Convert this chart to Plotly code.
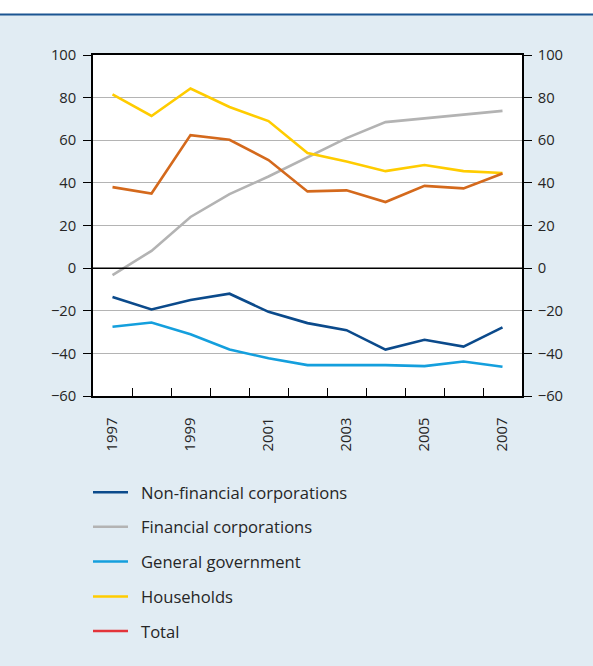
import plotly.graph_objects as go

# Sectoral series, 1997-2007 (% values)
years = list(range(1997, 2008))
non_financial = [-13.5, -19.4, -15.0, -12.0, -20.5, -25.8, -29.1, -38.2, -33.6, -36.8, -27.8]
financial = [-3.3, 8.1, 24.0, 34.7, 43.0, 52.0, 61.0, 68.5, 70.2, 71.8, 73.8]
general_gov = [-27.5, -25.5, -31.0, -38.2, -42.3, -45.5, -45.5, -45.5, -46.0, -43.8, -46.3]
households = [81.5, 71.4, 84.3, 75.6, 69.0, 54.0, 50.0, 45.5, 48.4, 45.5, 44.6]
total = [38.0, 35.0, 62.4, 60.2, 50.7, 36.0, 36.5, 31.0, 38.6, 37.4, 44.4]

series_names = ["Non-financial corporations", "Financial corporations",
                "General government", "Households", "Total"]
series_values = [non_financial, financial, general_gov, households, total]
line_colors = ["#0b4a8b", "#b3b3b3", "#149fdd", "#ffcc00", "#d4691c"]
legend_colors = ["#0b4a8b", "#b3b3b3", "#149fdd", "#ffcc00", "#e3343a"]

y_ticks = [-60, -40, -20, 0, 20, 40, 60, 80, 100]
x_label_years = [1997, 1999, 2001, 2003, 2005, 2007]

W, H = 593, 666
ML, MR, MT, MB = 93, 71, 55, 270
PW, PH = W - ML - MR, H - MT - MB

FONT = "Open Sans, Noto Sans, sans-serif"
TXT = "#262626"
BG = "#e1ecf3"


def px_x(x):
    return (x - ML) / PW


def px_y(y):
    return 1 - (y - MT) / PH


fig = go.Figure()

for name, vals, col in zip(series_names, series_values, line_colors):
    fig.add_trace(go.Scatter(x=years, y=vals, mode="lines", name=name,
                             line=dict(color=col, width=2.6),
                             showlegend=False, hoverinfo="x+y+name"))

# mirror axis on the right
fig.add_trace(go.Scatter(x=[years[0]], y=[None], yaxis="y2", showlegend=False,
                         hoverinfo="skip"))

shapes = []
annotations = []

# white band and dark blue rule at the top of the panel
shapes.append(dict(type="rect", xref="paper", yref="paper", layer="below",
                   x0=px_x(0), x1=px_x(W), y0=px_y(14), y1=px_y(-2),
                   fillcolor="white", line=dict(width=0)))
shapes.append(dict(type="line", xref="paper", yref="paper",
                   x0=px_x(0), x1=px_x(W), y0=px_y(14.5), y1=px_y(14.5),
                   line=dict(color="#1b5592", width=2)))

# zero line
shapes.append(dict(type="line", xref="paper", yref="y", x0=0, x1=1, y0=0, y1=0,
                   line=dict(color="black", width=1.5), layer="above"))

# legend
legend_y = [492.3, 526.8, 561.4, 596.4, 631]
for name, col, ly in zip(series_names, legend_colors, legend_y):
    shapes.append(dict(type="line", xref="paper", yref="paper",
                       x0=px_x(93), x1=px_x(128), y0=px_y(ly), y1=px_y(ly),
                       line=dict(color=col, width=2.5)))
    annotations.append(dict(xref="paper", yref="paper", x=px_x(139), y=px_y(ly),
                            text=name, showarrow=False, xanchor="left",
                            yanchor="middle",
                            font=dict(family=FONT, size=16.6, color=TXT)))

yaxis_common = dict(range=[-60, 100], tickvals=y_ticks, ticks="outside",
                    ticklen=8, tickwidth=1.3, tickcolor="black",
                    showline=True, linecolor="black", linewidth=1.5,
                    zeroline=False,
                    tickfont=dict(family=FONT, size=14.8, color=TXT))

fig.update_layout(
    width=W, height=H,
    margin=dict(l=ML, r=MR, t=MT, b=MB, pad=0),
    paper_bgcolor=BG, plot_bgcolor="white",
    showlegend=False,
    shapes=shapes, annotations=annotations,
    xaxis=dict(range=[1996.5, 2007.5], tickvals=x_label_years, ticks="",
               tickangle=-90, ticklabelstandoff=14,
               showline=True, mirror=True, linecolor="black", linewidth=1.5,
               showgrid=False, zeroline=False,
               tickfont=dict(family=FONT, size=14.8, color=TXT),
               minor=dict(tickvals=[y + 0.5 for y in years[:-1]],
                          ticks="inside", ticklen=8, tickwidth=1.3,
                          tickcolor="black", showgrid=False)),
    yaxis=dict(**yaxis_common, side="left", showgrid=True,
               gridcolor="#b4b4b4", gridwidth=1.2, ticklabelstandoff=4),
    yaxis2=dict(**yaxis_common, side="right", overlaying="y", showgrid=False,
                ticklabelstandoff=3),
)

fig.write_html("out.html")
